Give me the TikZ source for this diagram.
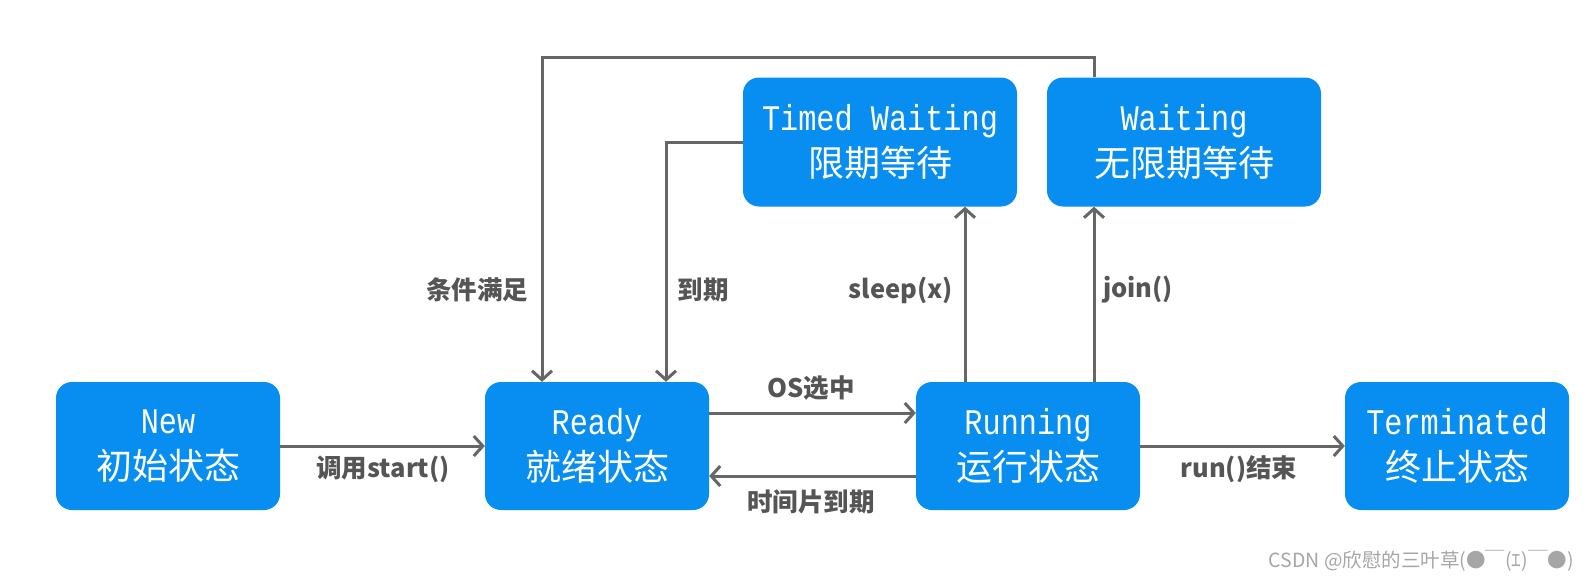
\documentclass[tikz,border=0pt]{standalone}
\usepackage{fontspec}
\usepackage{tikz}
\usetikzlibrary{arrows.meta}
\newfontfamily\cjkfont{Noto Sans CJK SC}
\newfontfamily\latinmono[FakeStretch=0.84]{Liberation Mono}
\definecolor{stateblue}{RGB}{8,142,240}
\definecolor{arrowgray}{RGB}{102,102,102}
\definecolor{labelgray}{RGB}{85,85,85}

\begin{document}
\begin{tikzpicture}[x=1pt,y=-1pt,
        state/.style={fill=stateblue,text=white,rounded corners=16pt,
            minimum width=224pt,minimum height=128pt,align=center,
            font=\fontsize{36}{46}\selectfont\cjkfont},
        wide/.style={minimum width=274pt,minimum height=129pt},
        trans/.style={draw=arrowgray,line width=3pt,
            -{Straight Barb[length=9pt,width=20pt]}},
        cond/.style={text=labelgray,inner sep=0pt,
            font=\fontsize{25.5}{28}\selectfont\cjkfont\bfseries}]
        \useasboundingbox [fill=white] (0,0) rectangle (1590,582);

        % States
        \node [state] (new) at (168,446)
            {{\latinmono\fontsize{36}{46}\selectfont New}\\初始状态};
        \node [state] (ready) at (597,446)
            {{\latinmono\fontsize{36}{46}\selectfont Ready}\\就绪状态};
        \node [state] (running) at (1028,446)
            {{\latinmono\fontsize{36}{46}\selectfont Running}\\运行状态};
        \node [state] (terminated) at (1457,446)
            {{\latinmono\fontsize{36}{46}\selectfont Terminated}\\终止状态};
        \node [state,wide] (timed) at (880,142)
            {{\latinmono\fontsize{36}{46}\selectfont Timed Waiting}\\限期等待};
        \node [state,wide] (waiting) at (1184,142)
            {{\latinmono\fontsize{36}{46}\selectfont Waiting}\\无限期等待};

        % Transitions along the bottom row
        \draw [trans] (new.east) -- (ready.west);
        \draw [trans] ([yshift=33pt]ready.east) -- ([yshift=33pt]running.west);
        \draw [trans] ([yshift=-30pt]running.west) -- ([yshift=-30pt]ready.east);
        \draw [trans] (running.east) -- (terminated.west);

        % Transitions to and from the waiting states
        \draw [trans] ([xshift=-63pt]running.north)
            -- ([xshift=-63pt]running.north |- timed.south);
        \draw [trans] ([xshift=66pt]running.north)
            -- ([xshift=66pt]running.north |- waiting.south);
        \draw [trans] (timed.west) -| ([xshift=69pt]ready.north);
        \coordinate (loop) at (542,57);
        \draw [trans] ([xshift=-90pt]waiting.north) |- (loop)
            -- (loop |- ready.north);

        % Transition labels
        \node [cond] (lstart) at (383,469) {调用start()};
        \node [cond] (lpick) at (811,388) {OS选中};
        \node [cond] (lslice) at (811,502) {时间片到期};
        \node [cond] (lrun) at (1239,469) {run()结束};
        \node [cond] (lsleep) at (901,290) {sleep(x)};
        \node [cond] (ljoin) at (1138,290) {join()};
        \node [cond] (lnotify) at (477,290) {条件满足};
        \node [cond] (ltimeout) at (703,290) {到期};

        % Watermark
        \node [anchor=east,text=gray!70,inner sep=0pt,
            font=\fontsize{19.5}{22}\selectfont\cjkfont] (mark) at (1574,561)
            {CSDN @欣慰的三叶草(●￣(ｴ)￣●)};
\end{tikzpicture}
\end{document}
